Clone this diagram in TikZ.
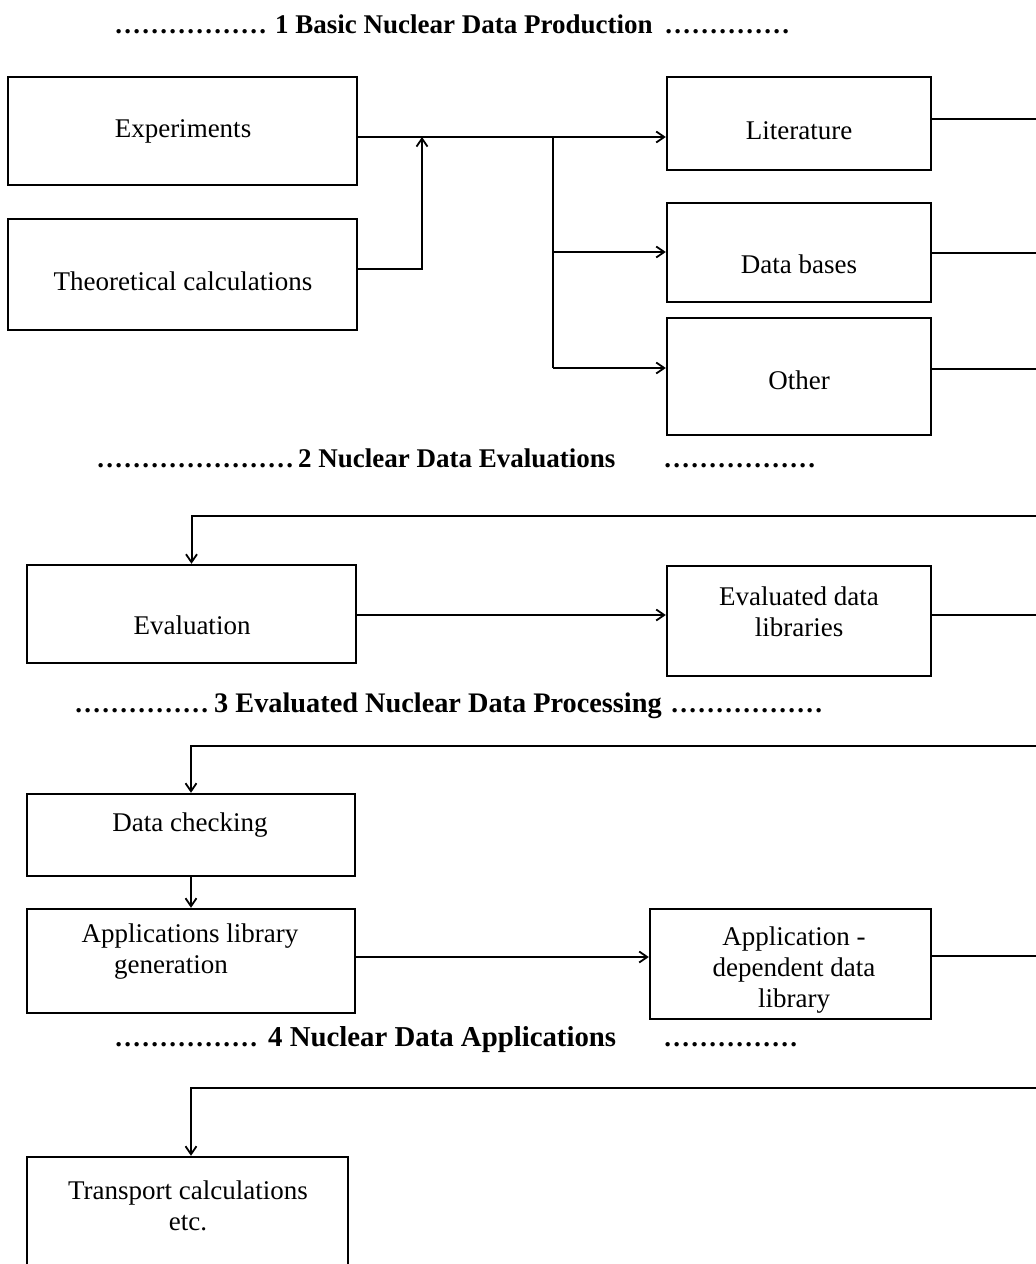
\documentclass[tikz,border=0pt]{standalone}
\usepackage{fontspec}
\setmainfont{Liberation Serif}
\usetikzlibrary{arrows.meta}
\newcount\mydotcount
\newcommand\dotrow[1]{\mydotcount=0\relax\loop\ifnum\mydotcount<#1\relax\makebox[9pt]{.}\advance\mydotcount by 1\relax\repeat}
\begin{document}
\begin{tikzpicture}[x=1pt,y=-1pt,
  box/.style={draw, line width=2.4pt, inner sep=0pt},
  txt/.style={align=center, font=\fontsize{27}{31}\selectfont, inner sep=0pt},
  head/.style={font=\fontsize{27}{31}\selectfont\bfseries, inner sep=0pt, anchor=base west},
  dotsrow/.style={font=\fontsize{27}{31}\selectfont\bfseries, inner sep=0pt, anchor=base west},
  conn/.style={line width=2pt},
  arr/.style={conn, -{Straight Barb[length=8pt,width=11pt,line width=1.8pt]}}]
\useasboundingbox (0,0) rectangle (1036,1264);
\clip (0,0) rectangle (1036,1264);

% ---------- headings ----------
\node[dotsrow] (h1l) at (114,33) {\dotrow{17}};
\node[head] (h1) at (275,33) {1 Basic Nuclear Data Production};
\node[dotsrow] (h1r) at (664,33) {\dotrow{14}};

\node[dotsrow] (h2l) at (96,467) {\dotrow{22}};
\node[head] (h2) at (298,467) {2 Nuclear Data Evaluations};
\node[dotsrow] (h2r) at (663,467) {\dotrow{17}};

\node[dotsrow] (h3l) at (74,712) {\dotrow{15}};
\node[head, font=\fontsize{28.3}{32}\selectfont\bfseries] (h3) at (214,712) {3 Evaluated Nuclear Data Processing};
\node[dotsrow] (h3r) at (670,712) {\dotrow{17}};

\node[dotsrow] (h4l) at (114,1046) {\dotrow{16}};
\node[head, font=\fontsize{28.8}{32}\selectfont\bfseries] (h4) at (268,1046) {4 Nuclear Data Applications};
\node[dotsrow] (h4r) at (663,1046) {\dotrow{15}};

% ---------- boxes ----------
\node[box, minimum width=349, minimum height=108] (exp)  at (182.5,131) {};
\node[box, minimum width=349, minimum height=111] (theo) at (182.5,274.5) {};
\node[box, minimum width=264, minimum height=93]  (lit)  at (799,123.5) {};
\node[box, minimum width=264, minimum height=99]  (db)   at (799,252.5) {};
\node[box, minimum width=264, minimum height=117] (oth)  at (799,376.5) {};
\node[box, minimum width=329, minimum height=98]  (evl)  at (191.5,614) {};
\node[box, minimum width=264, minimum height=110] (edl)  at (799,621) {};
\node[box, minimum width=328, minimum height=82]  (dc)   at (191,835) {};
\node[box, minimum width=328, minimum height=104] (alg)  at (191,961) {};
\node[box, minimum width=281, minimum height=110] (adl)  at (790.5,964) {};
\node[box, minimum width=321, minimum height=143] (tr)   at (187.5,1228.5) {};

% ---------- texts ----------
\node[txt] (texp)  at (183,131) {Experiments};
\node[txt] (ttheo) at (183,281) {Theoretical calculations};
\node[txt] (tlit)  at (799,131) {Literature};
\node[txt] (tdb)   at (799,264) {Data bases};
\node[txt] (toth)  at (799,380) {Other};
\node[txt] (tevl)  at (192,625) {Evaluation};
\node[txt] (tedl)  at (799,612) {Evaluated data\\libraries};
\node[txt] (tdc)   at (190,825) {Data checking};
\node[txt] (talg)  at (190,952) {Applications library\\generation\hspace*{38pt}};
\node[txt] (tadl)  at (794,970) {Application -\\dependent data\\library};
\node[txt] (ttr)   at (188,1206) {Transport calculations\\etc.};

% ---------- connectors ----------
\coordinate (j1) at (422,137);
\coordinate (j2) at (553,137);
\coordinate (j3) at (553,252);
\coordinate (j4) at (553,368);
\draw[arr] (exp.east |- j1) -- (lit.west |- j1);
\draw[arr] ([yshift=5.5pt]theo.east) -| (j1);
\draw[conn] (j2) -- (j4);
\draw[arr] (j3) -- (db.west |- j3);
\draw[arr] (j4) -- (oth.west |- j4);

\coordinate (e1) at (1040,119);
\coordinate (e2) at (1040,253);
\coordinate (e3) at (1040,369);
\draw[conn] (lit.east |- e1) -- (e1);
\draw[conn] (db.east |- e2) -- (e2);
\draw[conn] (oth.east |- e3) -- (e3);

\coordinate (e4) at (1040,516);
\coordinate (m1) at (500,615);
\coordinate (e5) at (1040,615);
\draw[arr] (e4) -| (evl.north);
\draw[arr] (evl.east |- m1) -- (edl.west |- m1);
\draw[conn] (edl.east |- e5) -- (e5);

\coordinate (e6) at (1040,746);
\coordinate (m2) at (500,957);
\coordinate (e7) at (1040,956);
\draw[arr] (e6) -| (dc.north);
\draw[arr] (dc.south) -- (alg.north);
\draw[arr] (alg.east |- m2) -- (adl.west |- m2);
\draw[conn] (adl.east |- e7) -- (e7);

\coordinate (e8) at (1040,1088);
\draw[arr] (e8) -| ([xshift=3.5pt]tr.north);
\end{tikzpicture}
\end{document}
